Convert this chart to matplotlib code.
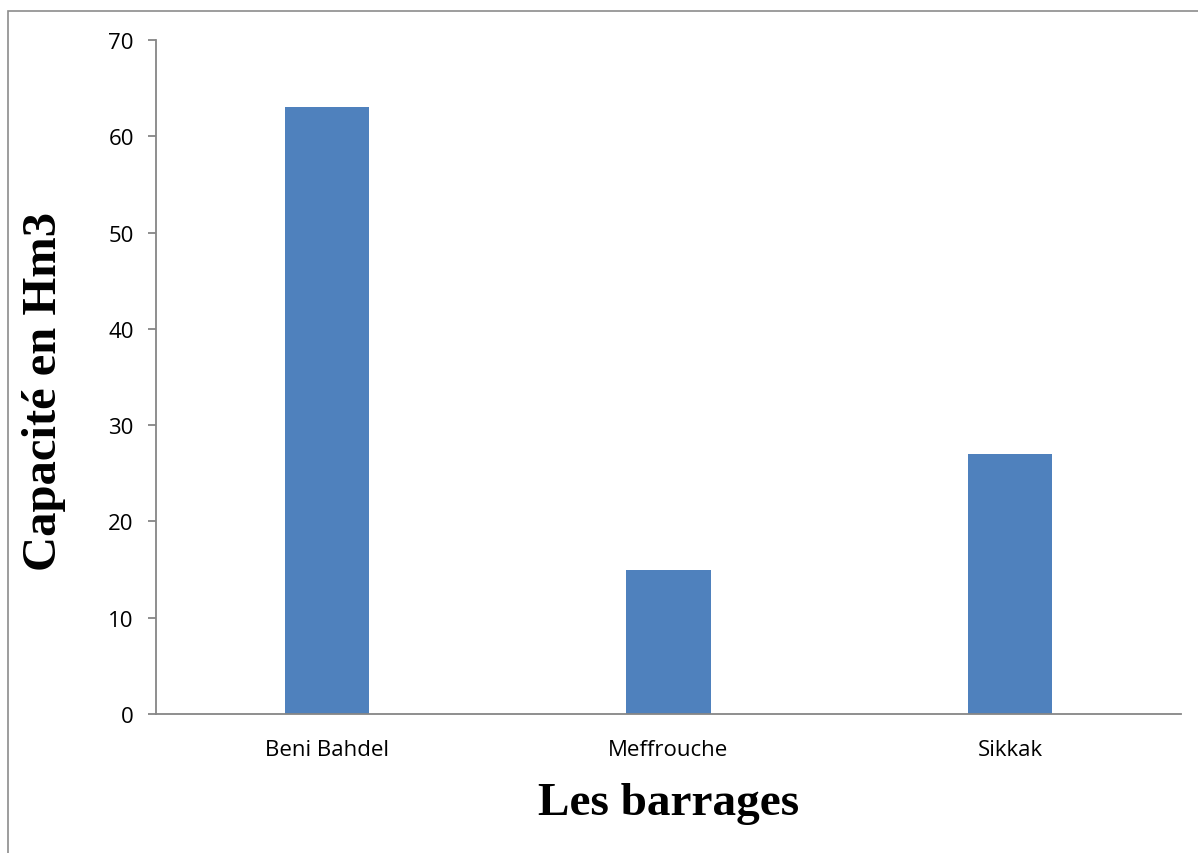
import matplotlib.pyplot as plt
from matplotlib.patches import Rectangle

# data
barrages = ["Beni Bahdel", "Meffrouche", "Sikkak"]
capacite = [63, 15, 27]

fig = plt.figure(figsize=(11.98, 8.54), dpi=100)
ax = fig.add_axes([0.1302, 0.1628, 0.8556, 0.7892])

# outer chart frame (only left/top visible in the crop)
fig.patches.append(Rectangle((8 / 1198, -0.05), 1.2, 1 - 12 / 854 + 0.05,
                             transform=fig.transFigure, fill=False,
                             edgecolor="#8c8c8c", linewidth=1.2))

x = range(len(barrages))
ax.bar(x, capacite, width=0.246, color="#4F81BD")

ax.set_xlim(-0.5, 2.5)
ax.set_ylim(0, 70)
ax.set_yticks(range(0, 71, 10))
ax.set_xticks(list(x))
ax.set_xticklabels(barrages)

tick_font = "Open Sans"
for lab in ax.get_xticklabels() + ax.get_yticklabels():
    lab.set_fontfamily(tick_font)
    lab.set_fontsize(16)

for s in ["top", "right"]:
    ax.spines[s].set_visible(False)
for s in ["left", "bottom"]:
    ax.spines[s].set_color("#868686")
    ax.spines[s].set_linewidth(1.3)

ax.tick_params(axis="y", length=6, width=1.3, color="#868686", pad=10)
ax.tick_params(axis="x", length=0, pad=18)

ax.set_xlabel("Les barrages", fontfamily="Liberation Serif", fontweight="bold",
              fontsize=34, labelpad=16)
ax.set_ylabel("Capacité en Hm3", fontfamily="Liberation Serif", fontweight="bold",
              fontsize=35)
ax.yaxis.set_label_coords(-0.088, 0.48)

fig.savefig("out.png", dpi=100)
